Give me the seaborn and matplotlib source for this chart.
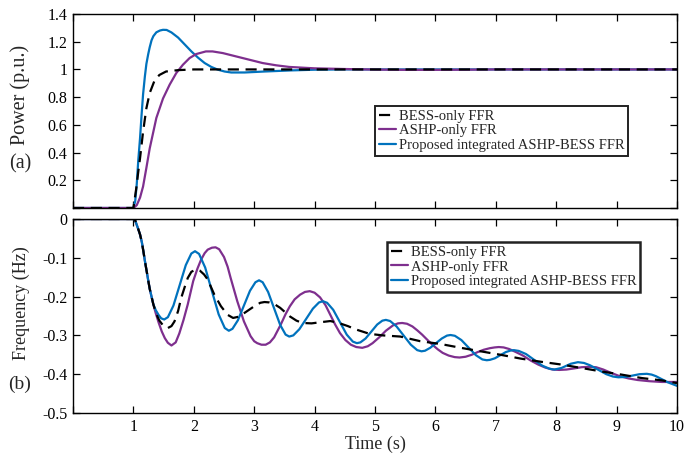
import numpy as np
import pandas as pd
import matplotlib
matplotlib.use("Agg")
import matplotlib.pyplot as plt
import seaborn as sns

# ---------------- data: (a) power response ----------------
bess_p_t = [0, 1.0, 1.05, 1.08, 1.11, 1.16, 1.215, 1.27, 1.35, 1.43, 1.54, 1.74, 2.0, 10]
bess_p = [0, 0, 0.15, 0.26, 0.36, 0.55, 0.72, 0.83, 0.92, 0.96, 0.985, 0.995, 1.0, 1.0]

ashp_p_t = [0, 1.0, 1.055, 1.11, 1.16, 1.215, 1.27, 1.33, 1.38, 1.49, 1.6, 1.71, 1.82,
            1.93, 2.04, 2.2, 2.31, 2.48, 2.7, 2.92, 3.14, 3.36, 3.58, 4.0, 4.5, 5.0,
            5.5, 6.0, 6.5, 7.0, 10]
ashp_p = [0, 0, 0.02, 0.075, 0.155, 0.29, 0.43, 0.55, 0.65, 0.79, 0.89, 0.974, 1.034,
          1.082, 1.111, 1.13, 1.13, 1.118, 1.094, 1.07, 1.046, 1.03, 1.018, 1.008, 1.003,
          0.999, 0.997, 0.997, 0.998, 1.0, 1.0]

prop_p_t = [0, 1.0, 1.03, 1.055, 1.08, 1.11, 1.135, 1.16, 1.19, 1.215, 1.245, 1.27, 1.30,
            1.33, 1.38, 1.44, 1.49, 1.55, 1.63, 1.74, 1.85, 1.96, 2.07, 2.18, 2.29, 2.40,
            2.51, 2.62, 2.84, 3.17, 3.61, 4.0, 4.5, 10]
prop_p = [0, 0, 0.05, 0.17, 0.34, 0.505, 0.67, 0.82, 0.95, 1.04, 1.11, 1.16, 1.21,
          1.24, 1.268, 1.281, 1.286, 1.285, 1.267, 1.23, 1.18, 1.13, 1.085, 1.046,
          1.018, 0.998, 0.985, 0.978, 0.978, 0.985, 0.993, 0.998, 1.0, 1.0]

# ---------------- data: (b) frequency deviation ----------------
# shared onset of the frequency dip (all three cases coincide here)
onset_t = [0, 1.0, 1.03, 1.055, 1.08, 1.11, 1.14, 1.165, 1.19, 1.22, 1.245, 1.27, 1.30, 1.33]
onset_f = [0, 0, -0.004, -0.015, -0.026, -0.04, -0.06, -0.083, -0.108, -0.135, -0.158,
           -0.18, -0.2, -0.22]

bess_f_t = onset_t + [
    1.38, 1.43, 1.5, 1.57, 1.63, 1.68, 1.74, 1.79, 1.85, 1.9,
    1.96, 2.04, 2.1, 2.17, 2.23, 2.34, 2.45, 2.56, 2.65, 2.74,
    2.83, 3.0, 3.1, 3.17, 3.25, 3.33, 3.43, 3.59, 3.7, 3.8,
    3.95, 4.1, 4.26, 4.4, 4.55, 4.69, 4.91, 5.13, 5.42, 5.75,
    6.08, 6.42, 6.75, 7.08, 7.42, 7.75, 8.08, 8.42, 8.75, 9.08,
    9.42, 9.75, 10]
bess_f = onset_f + [
    -0.245, -0.262, -0.276, -0.281, -0.276, -0.264, -0.237, -0.204, -0.175, -0.152,
    -0.136, -0.13, -0.133, -0.143, -0.156, -0.195, -0.225, -0.247, -0.255, -0.252,
    -0.243, -0.225, -0.216, -0.214, -0.215, -0.219, -0.229, -0.251, -0.262, -0.268,
    -0.269, -0.266, -0.263, -0.268, -0.276, -0.285, -0.296, -0.3, -0.303, -0.315,
    -0.322, -0.332, -0.341, -0.35, -0.36, -0.368, -0.375, -0.384, -0.393, -0.401,
    -0.41, -0.416, -0.423]

ashp_f_t = onset_t + [
    1.37, 1.42, 1.47, 1.52, 1.57, 1.63,
    1.70, 1.76, 1.83, 1.9, 1.99, 2.06, 2.12, 2.18, 2.23, 2.30, 2.36,
    2.42, 2.5, 2.56, 2.61, 2.72, 2.83, 2.94, 3.0, 3.05, 3.12, 3.19,
    3.26, 3.33, 3.44, 3.52, 3.59, 3.67, 3.76, 3.84, 3.92,
    4.0, 4.09, 4.18, 4.26, 4.34, 4.42, 4.51, 4.6, 4.69, 4.79,
    4.88, 4.96, 5.07, 5.18, 5.3, 5.38, 5.45,
    5.53, 5.62, 5.7, 5.78, 5.87, 5.95, 6.04, 6.12, 6.22, 6.32, 6.4,
    6.5, 6.6, 6.7, 6.8, 6.9, 6.98, 7.05,
    7.13, 7.22, 7.32, 7.45, 7.58, 7.7, 7.82, 7.94, 8.05,
    8.17, 8.3, 8.42, 8.55,
    8.66, 8.78, 8.9, 9.05, 9.2, 9.35, 9.54, 9.75, 10]
ashp_f = onset_f + [
    -0.243, -0.268, -0.29, -0.307, -0.319, -0.326,
    -0.318, -0.295, -0.26, -0.22, -0.16, -0.128, -0.105, -0.088, -0.079, -0.074, -0.073,
    -0.078, -0.098, -0.123, -0.152, -0.212, -0.264, -0.302, -0.315, -0.32, -0.324, -0.324,
    -0.318, -0.305, -0.272, -0.245, -0.225, -0.207, -0.195, -0.188, -0.186,
    -0.19, -0.202, -0.222, -0.247, -0.272, -0.294, -0.312, -0.324, -0.33, -0.332,
    -0.328, -0.32, -0.305, -0.288, -0.274, -0.269, -0.268,
    -0.27, -0.277, -0.287, -0.298, -0.312, -0.324, -0.336, -0.345, -0.352, -0.356, -0.357,
    -0.355, -0.35, -0.343, -0.337, -0.333, -0.331, -0.33,
    -0.331, -0.335, -0.342, -0.352, -0.365, -0.375, -0.383, -0.388, -0.389,
    -0.388, -0.385, -0.382, -0.381,
    -0.382, -0.388, -0.396, -0.405, -0.411, -0.415, -0.418, -0.42, -0.42]

prop_f_t = onset_t + [
    1.37, 1.42, 1.46, 1.51,
    1.571, 1.663, 1.765, 1.867, 1.959, 2.02,
    2.087, 2.188, 2.30, 2.412, 2.513, 2.58,
    2.64, 2.73, 2.83, 2.93, 3.02, 3.08,
    3.14, 3.23, 3.33, 3.43, 3.52, 3.58,
    3.647, 3.748, 3.86, 3.972, 4.073, 4.14,
    4.207, 4.308, 4.42, 4.532, 4.633, 4.7,
    4.758, 4.844, 4.94, 5.036, 5.122, 5.18,
    5.251, 5.357, 5.475, 5.593, 5.699, 5.77,
    5.828, 5.914, 6.01, 6.106, 6.192, 6.25,
    6.322, 6.43, 6.55, 6.67, 6.778, 6.85,
    6.904, 6.985, 7.075, 7.165, 7.246, 7.3,
    7.38, 7.50, 7.635, 7.77, 7.89, 7.97,
    8.087, 8.165, 8.243, 8.36,
    8.46, 8.56, 8.695, 8.83, 8.94, 9.03,
    9.15, 9.265, 9.38, 9.5,
    9.58, 9.65, 9.75, 9.85, 10]
prop_f = onset_f + [
    -0.235, -0.248, -0.256, -0.259,
    -0.253, -0.223, -0.171, -0.119, -0.089, -0.083,
    -0.090, -0.125, -0.186, -0.246, -0.281, -0.288,
    -0.283, -0.261, -0.223, -0.185, -0.163, -0.158,
    -0.163, -0.188, -0.2305, -0.273, -0.298, -0.303,
    -0.300, -0.284, -0.2575, -0.231, -0.215, -0.212,
    -0.216, -0.234, -0.266, -0.298, -0.316, -0.32,
    -0.318, -0.308, -0.29, -0.272, -0.262, -0.26,
    -0.263, -0.277, -0.3005, -0.324, -0.338, -0.341,
    -0.3395, -0.332, -0.32, -0.308, -0.3005, -0.299,
    -0.301, -0.312, -0.3315, -0.351, -0.362, -0.364,
    -0.363, -0.359, -0.351, -0.343, -0.339, -0.338,
    -0.340, -0.348, -0.363, -0.378, -0.386, -0.388,
    -0.384, -0.3785, -0.373, -0.369,
    -0.371, -0.377, -0.3885, -0.400, -0.406, -0.408,
    -0.407, -0.4035, -0.400, -0.399,
    -0.401, -0.405, -0.413, -0.421, -0.43]

labels = ["BESS-only FFR", "ASHP-only FFR", "Proposed integrated ASHP-BESS FFR"]
c_bess, c_ashp, c_prop = "black", "#7E2F8E", "#0072BD"

time_ticks = list(range(0, 11))
time_labels = [""] + [str(i) for i in range(1, 11)]
power_y_ticks = [0, 0.2, 0.4, 0.6, 0.8, 1.0, 1.2, 1.4]
power_y_labels = ["", "0.2", "0.4", "0.6", "0.8", "1", "1.2", "1.4"]
freq_y_ticks = [0, -0.1, -0.2, -0.3, -0.4, -0.5]
freq_y_labels = ["0", "-0.1", "-0.2", "-0.3", "-0.4", "-0.5"]

# ---------------- styling ----------------
sns.set_theme(style="ticks")
plt.rcParams["font.family"] = ["Liberation Serif", "DejaVu Serif"]

fig = plt.figure(figsize=(6.94, 4.55), dpi=100)
ax1 = fig.add_axes([0.1052, 0.5429, 0.8703, 0.4263])
ax2 = fig.add_axes([0.1052, 0.0923, 0.8703, 0.4264])

dash = (5, 3)
lw = 1.6

# (a) power
sns.lineplot(x=prop_p_t, y=prop_p, ax=ax1, color=c_prop, lw=lw, label=labels[2])
sns.lineplot(x=ashp_p_t, y=ashp_p, ax=ax1, color=c_ashp, lw=lw, label=labels[1])
sns.lineplot(x=bess_p_t, y=bess_p, ax=ax1, color=c_bess, lw=lw, label=labels[0])
ax1.lines[-1].set_dashes(dash)

# (b) frequency
sns.lineplot(x=ashp_f_t, y=ashp_f, ax=ax2, color=c_ashp, lw=lw, label=labels[1])
sns.lineplot(x=prop_f_t, y=prop_f, ax=ax2, color=c_prop, lw=lw, label=labels[2])
sns.lineplot(x=bess_f_t, y=bess_f, ax=ax2, color=c_bess, lw=lw, label=labels[0])
ax2.lines[-1].set_dashes(dash)

for ax in (ax1, ax2):
    ax.set_xlim(0, 10)
    ax.set_xticks(time_ticks)
    ax.tick_params(direction="in", length=5, width=0.9, top=True, right=True,
                   labelsize=11.5, colors="black", pad=4)
    for s in ax.spines.values():
        s.set_visible(True)
        s.set_linewidth(1.0)
        s.set_color("black")
    ax.set_xlabel("")
    ax.set_ylabel("")

ax1.set_ylim(0, 1.4)
ax1.set_yticks(power_y_ticks)
ax1.set_yticklabels(power_y_labels)
ax1.set_xticklabels([])

ax2.set_ylim(-0.5, 0)
ax2.set_yticks(freq_y_ticks)
ax2.set_yticklabels(freq_y_labels)
ax2.set_xticklabels(time_labels)
ax2.set_xlabel("Time (s)", fontsize=13, labelpad=1)


def make_legend(ax, x0, y0, frame_lw):
    h, l = ax.get_legend_handles_labels()
    order = [l.index(n) for n in labels]
    leg = ax.legend([h[i] for i in order], [l[i] for i in order],
                    loc="upper left", bbox_to_anchor=(x0, y0), borderaxespad=0,
                    fontsize=10.5, handlelength=1.2, handletextpad=0.2,
                    labelspacing=0.1, borderpad=0.25, fancybox=False,
                    framealpha=1, edgecolor="#222222")
    leg.get_frame().set_linewidth(frame_lw)
    return leg


make_legend(ax1, 0.50, 0.526, 1.4)
make_legend(ax2, 0.52, 0.881, 1.8)

# panel tags and axis titles
fig.text(20 / 694, 1 - 95 / 455, "Power (p.u.)", rotation=90, ha="center",
         va="center", fontsize=14.5)
fig.text(20 / 694, 1 - 164 / 455, "(a)", ha="center", va="center", fontsize=14.5)
fig.text(21 / 694, 1 - 303 / 455, "Frequency (Hz)", rotation=90, ha="center",
         va="center", fontsize=13)
fig.text(20 / 694, 1 - 384 / 455, "(b)", ha="center", va="center", fontsize=14)

fig.savefig("out.png", dpi=100)
